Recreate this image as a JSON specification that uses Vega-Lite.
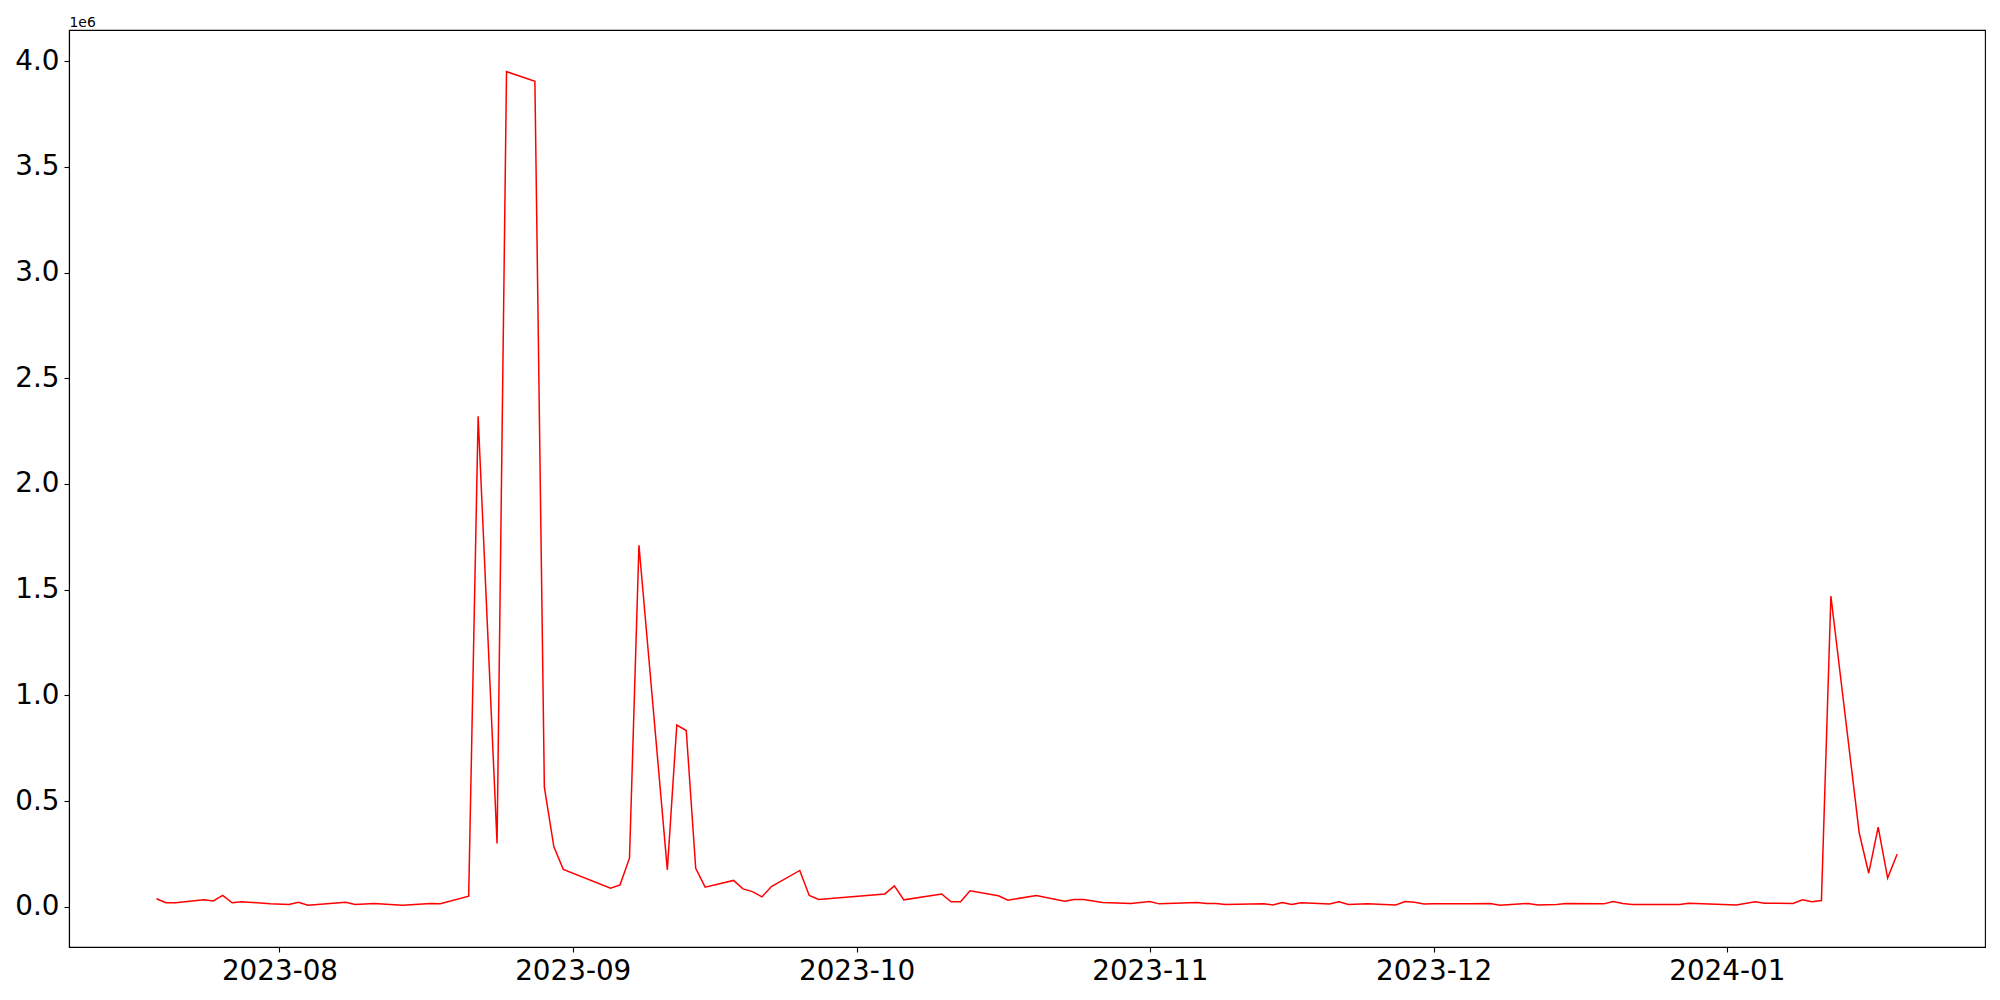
{
  "$schema": "https://vega.github.io/schema/vega-lite/v6.json",
  "autosize": {"type": "none"},
  "padding": {"left": 69, "top": 30, "right": 15, "bottom": 53},
  "width": 1916,
  "height": 917,
  "background": "white",
  "config": {
    "view": {"stroke": "black", "strokeWidth": 1.1},
    "font": "DejaVu Sans",
    "axis": {"grid": false, "domainColor": "black", "domainWidth": 1.1, "tickColor": "black", "tickWidth": 1.1, "tickSize": 5, "labelPadding": 5, "labelFont": "DejaVu Sans", "labelFontSize": 27.8, "labelColor": "black"}
  },
  "data": {
    "values": [
      {"date": "2023-07-19", "value": 38000},
      {"date": "2023-07-20", "value": 19000},
      {"date": "2023-07-21", "value": 19000},
      {"date": "2023-07-24", "value": 33000},
      {"date": "2023-07-25", "value": 28000},
      {"date": "2023-07-26", "value": 54000},
      {"date": "2023-07-27", "value": 19000},
      {"date": "2023-07-28", "value": 24000},
      {"date": "2023-07-31", "value": 15000},
      {"date": "2023-08-02", "value": 11000},
      {"date": "2023-08-03", "value": 22000},
      {"date": "2023-08-04", "value": 8000},
      {"date": "2023-08-08", "value": 22000},
      {"date": "2023-08-09", "value": 11000},
      {"date": "2023-08-11", "value": 16000},
      {"date": "2023-08-14", "value": 8000},
      {"date": "2023-08-17", "value": 16000},
      {"date": "2023-08-18", "value": 15000},
      {"date": "2023-08-21", "value": 50000},
      {"date": "2023-08-22", "value": 2320000},
      {"date": "2023-08-24", "value": 300000},
      {"date": "2023-08-25", "value": 3950000},
      {"date": "2023-08-28", "value": 3905000},
      {"date": "2023-08-29", "value": 566000},
      {"date": "2023-08-30", "value": 285000},
      {"date": "2023-08-31", "value": 177000},
      {"date": "2023-09-05", "value": 88000},
      {"date": "2023-09-06", "value": 104000},
      {"date": "2023-09-07", "value": 230000},
      {"date": "2023-09-08", "value": 1710000},
      {"date": "2023-09-11", "value": 175000},
      {"date": "2023-09-12", "value": 860000},
      {"date": "2023-09-13", "value": 834000},
      {"date": "2023-09-14", "value": 182000},
      {"date": "2023-09-15", "value": 93000},
      {"date": "2023-09-18", "value": 125000},
      {"date": "2023-09-19", "value": 85000},
      {"date": "2023-09-20", "value": 72000},
      {"date": "2023-09-21", "value": 47000},
      {"date": "2023-09-22", "value": 96000},
      {"date": "2023-09-25", "value": 172000},
      {"date": "2023-09-26", "value": 54000},
      {"date": "2023-09-27", "value": 35000},
      {"date": "2023-10-04", "value": 61000},
      {"date": "2023-10-05", "value": 99000},
      {"date": "2023-10-06", "value": 33000},
      {"date": "2023-10-10", "value": 61000},
      {"date": "2023-10-11", "value": 24000},
      {"date": "2023-10-12", "value": 24000},
      {"date": "2023-10-13", "value": 76000},
      {"date": "2023-10-16", "value": 52000},
      {"date": "2023-10-17", "value": 31000},
      {"date": "2023-10-20", "value": 54000},
      {"date": "2023-10-23", "value": 27000},
      {"date": "2023-10-24", "value": 35000},
      {"date": "2023-10-25", "value": 35000},
      {"date": "2023-10-27", "value": 21000},
      {"date": "2023-10-30", "value": 16000},
      {"date": "2023-11-01", "value": 25000},
      {"date": "2023-11-02", "value": 14000},
      {"date": "2023-11-06", "value": 20000},
      {"date": "2023-11-07", "value": 16000},
      {"date": "2023-11-08", "value": 16000},
      {"date": "2023-11-09", "value": 11000},
      {"date": "2023-11-13", "value": 14000},
      {"date": "2023-11-14", "value": 9000},
      {"date": "2023-11-15", "value": 20000},
      {"date": "2023-11-16", "value": 11000},
      {"date": "2023-11-17", "value": 19000},
      {"date": "2023-11-20", "value": 13000},
      {"date": "2023-11-21", "value": 24000},
      {"date": "2023-11-22", "value": 11000},
      {"date": "2023-11-24", "value": 14000},
      {"date": "2023-11-27", "value": 9000},
      {"date": "2023-11-28", "value": 25000},
      {"date": "2023-11-29", "value": 22000},
      {"date": "2023-11-30", "value": 13000},
      {"date": "2023-12-01", "value": 14000},
      {"date": "2023-12-05", "value": 14000},
      {"date": "2023-12-07", "value": 16000},
      {"date": "2023-12-08", "value": 8000},
      {"date": "2023-12-11", "value": 16000},
      {"date": "2023-12-12", "value": 9000},
      {"date": "2023-12-14", "value": 11000},
      {"date": "2023-12-15", "value": 16000},
      {"date": "2023-12-19", "value": 14000},
      {"date": "2023-12-20", "value": 25000},
      {"date": "2023-12-21", "value": 16000},
      {"date": "2023-12-22", "value": 11000},
      {"date": "2023-12-27", "value": 11000},
      {"date": "2023-12-28", "value": 17000},
      {"date": "2024-01-02", "value": 9000},
      {"date": "2024-01-04", "value": 24000},
      {"date": "2024-01-05", "value": 17000},
      {"date": "2024-01-08", "value": 16000},
      {"date": "2024-01-09", "value": 33000},
      {"date": "2024-01-10", "value": 24000},
      {"date": "2024-01-11", "value": 30000},
      {"date": "2024-01-12", "value": 1470000},
      {"date": "2024-01-15", "value": 348000},
      {"date": "2024-01-16", "value": 159000},
      {"date": "2024-01-17", "value": 377000},
      {"date": "2024-01-18", "value": 136000},
      {"date": "2024-01-19", "value": 249000}
    ]
  },
  "mark": {"type": "line", "color": "#ff0000", "strokeWidth": 1.5, "clip": true},
  "encoding": {
    "x": {
      "field": "date",
      "type": "temporal",
      "scale": {
        "type": "utc",
        "domain": [
          {"year": 2023, "month": 7, "date": 9, "hours": 18, "utc": true},
          {"year": 2024, "month": 1, "date": 28, "hours": 7, "utc": true}
        ]
      },
      "axis": {
        "title": null,
        "labelExpr": "utcFormat(datum.value, '%Y-%m')",
        "values": [
          {"year": 2023, "month": 8, "date": 1, "utc": true},
          {"year": 2023, "month": 9, "date": 1, "utc": true},
          {"year": 2023, "month": 10, "date": 1, "utc": true},
          {"year": 2023, "month": 11, "date": 1, "utc": true},
          {"year": 2023, "month": 12, "date": 1, "utc": true},
          {"year": 2024, "month": 1, "date": 1, "utc": true}
        ],
        "labelFlush": false,
        "labelOverlap": false
      }
    },
    "y": {
      "field": "value",
      "type": "quantitative",
      "scale": {"domain": [-190000, 4147000], "nice": false, "zero": false},
      "axis": {
        "values": [0, 500000, 1000000, 1500000, 2000000, 2500000, 3000000, 3500000, 4000000],
        "labelExpr": "format(datum.value / 1000000, '.1f')",
        "title": "1e6",
        "titleAngle": 0,
        "titleAlign": "left",
        "titleBaseline": "alphabetic",
        "titleX": 0,
        "titleY": -4,
        "titleFont": "DejaVu Sans",
        "titleFontSize": 13.9,
        "titleFontWeight": "normal",
        "titleColor": "black"
      }
    }
  }
}
